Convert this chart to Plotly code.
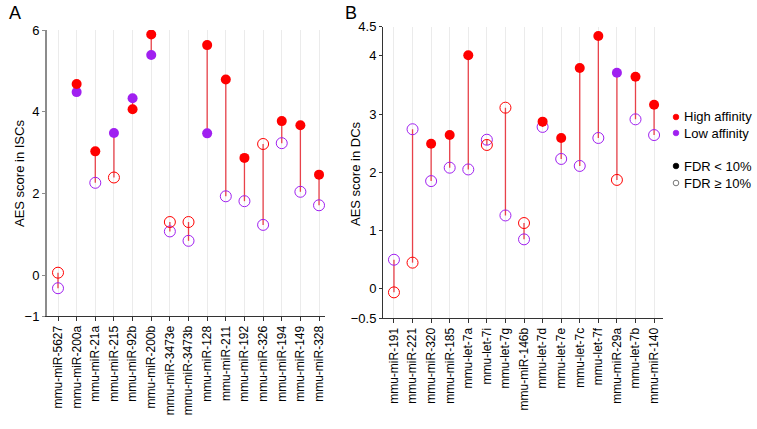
import plotly.graph_objects as go

# ---------------- Data ----------------
mirs_a = ["mmu-miR-5627", "mmu-miR-200a", "mmu-miR-21a", "mmu-miR-215", "mmu-miR-92b",
          "mmu-miR-200b", "mmu-miR-3473e", "mmu-miR-3473b", "mmu-miR-128", "mmu-miR-211",
          "mmu-miR-192", "mmu-miR-326", "mmu-miR-194", "mmu-miR-149", "mmu-miR-328"]
high_a = [0.06, 4.68, 3.03, 2.39, 4.06, 5.89, 1.30, 1.30, 5.63, 4.79, 2.87, 3.21, 3.77, 3.67, 2.46]
high_sig_a = [False, True, True, False, True, True, False, False, True, True, True, False, True, True, True]
low_a = [-0.32, 4.48, 2.26, 3.48, 4.33, 5.39, 1.07, 0.84, 3.47, 1.93, 1.81, 1.23, 3.23, 2.04, 1.71]
low_sig_a = [False, True, False, True, True, True, False, False, True, False, False, False, False, False, False]

mirs_b = ["mmu-miR-191", "mmu-miR-221", "mmu-miR-320", "mmu-miR-185", "mmu-let-7a",
          "mmu-let-7i", "mmu-let-7g", "mmu-miR-146b", "mmu-let-7d", "mmu-let-7e",
          "mmu-let-7c", "mmu-let-7f", "mmu-miR-29a", "mmu-let-7b", "mmu-miR-140"]
high_b = [-0.06, 0.45, 2.49, 2.64, 4.01, 2.47, 3.11, 1.13, 2.87, 2.59, 3.79, 4.34, 1.87, 3.64, 3.16]
high_sig_b = [False, False, True, True, True, False, False, False, True, True, True, True, False, True, True]
low_b = [0.50, 2.74, 1.85, 2.08, 2.05, 2.56, 1.26, 0.85, 2.78, 2.23, 2.11, 2.59, 3.71, 2.91, 2.64]
low_sig_b = [False, False, False, False, False, False, False, False, False, False, False, False, True, False, False]

yticks_a = [-1, 0, 2, 4, 6]
ytick_text_a = ["\u22121", "0", "2", "4", "6"]
yticks_b = [-0.5, 0, 1, 2, 3, 4, 4.5]
ytick_text_b = ["\u22120.5", "0", "1", "2", "3", "4", "4.5"]

# ---------------- Style ----------------
RED = "#ff0000"
PURPLE = "#a020f0"
SEG = "#e8424a"
FONT = "Liberation Sans, Arial, sans-serif"

fig = go.Figure()


def add_panel(fig, mirs, high, high_sig, low, low_sig, xa, ya):
    # segments
    for i, m in enumerate(mirs):
        fig.add_trace(go.Scatter(x=[m, m], y=[high[i], low[i]], mode="lines",
                                 line=dict(color=SEG, width=1.3), xaxis=xa, yaxis=ya,
                                 showlegend=False, hoverinfo="skip"))
    for vals, sig, col in [(low, low_sig, PURPLE), (high, high_sig, RED)]:
        xs_f = [m for m, s in zip(mirs, sig) if s]
        ys_f = [v for v, s in zip(vals, sig) if s]
        xs_o = [m for m, s in zip(mirs, sig) if not s]
        ys_o = [v for v, s in zip(vals, sig) if not s]
        fig.add_trace(go.Scatter(x=xs_o, y=ys_o, mode="markers", xaxis=xa, yaxis=ya,
                                 marker=dict(symbol="circle-open", size=11, color=col,
                                             line=dict(width=1)),
                                 showlegend=False))
        fig.add_trace(go.Scatter(x=xs_f, y=ys_f, mode="markers", xaxis=xa, yaxis=ya,
                                 marker=dict(symbol="circle", size=10, color=col),
                                 showlegend=False))


add_panel(fig, mirs_a, high_a, high_sig_a, low_a, low_sig_a, "x", "y")
add_panel(fig, mirs_b, high_b, high_sig_b, low_b, low_sig_b, "x2", "y2")

W, H = 757, 429

common_x = dict(type="category", showgrid=True, gridcolor="#ebebeb", gridwidth=1,
                tickangle=-90, ticks="outside", ticklen=4, tickcolor="#333",
                showline=True, linecolor="#333", linewidth=1, automargin=False,
                tickfont=dict(size=12, color="black", family=FONT), zeroline=False)
common_y = dict(showgrid=False, zeroline=False, ticks="outside", ticklen=3,
                showline=True, automargin=False,
                tickfont=dict(size=13, color="black", family=FONT))

fig.update_layout(
    template="none",
    width=W, height=H,
    margin=dict(l=0, r=0, t=0, b=0, autoexpand=False),
    paper_bgcolor="white", plot_bgcolor="white",
    font=dict(family=FONT, color="black"),
    showlegend=False,
    xaxis=dict(common_x, domain=[47 / W, 325 / W], range=[-0.59, 14.32],
               categoryorder="array", categoryarray=mirs_a, anchor="y"),
    yaxis=dict(common_y, domain=[1 - 316 / H, 1 - 30 / H], range=[-1, 6],
               tickvals=yticks_a, ticktext=ytick_text_a, linecolor="#8c8c8c", linewidth=2,
               tickcolor="#8c8c8c", anchor="x"),
    xaxis2=dict(common_x, domain=[383 / W, 663 / W], range=[-0.59, 14.48],
                categoryorder="array", categoryarray=mirs_b, anchor="y2"),
    yaxis2=dict(common_y, domain=[1 - 318 / H, 1 - 26.7 / H], range=[-0.5, 4.5],
                tickvals=yticks_b, ticktext=ytick_text_b, linecolor="#333", linewidth=1,
                tickcolor="#333", anchor="x2"),
)

# axis titles (placed as rotated annotations)
fig.add_annotation(x=19 / W, y=1 - 174 / H, xref="paper", yref="paper",
                   text="AES score in ISCs", textangle=-90, showarrow=False,
                   xanchor="center", yanchor="middle",
                   font=dict(size=13, family=FONT, color="black"))
fig.add_annotation(x=355 / W, y=1 - 174 / H, xref="paper", yref="paper",
                   text="AES score in DCs", textangle=-90, showarrow=False,
                   xanchor="center", yanchor="middle",
                   font=dict(size=13, family=FONT, color="black"))

# panel labels
fig.add_annotation(x=7 / W, y=1 - 13 / H, xref="paper", yref="paper", text="A",
                   showarrow=False, xanchor="left", yanchor="middle",
                   font=dict(size=18, family=FONT, color="black"))
fig.add_annotation(x=343 / W, y=1 - 13 / H, xref="paper", yref="paper", text="B",
                   showarrow=False, xanchor="left", yanchor="middle",
                   font=dict(size=18, family=FONT, color="black"))

# legend (drawn manually)
legend_items = [("High affinity", 117, "fill", RED),
                ("Low affinity", 133, "fill", PURPLE),
                ("FDR < 10%", 166, "fill", "black"),
                ("FDR \u2265 10%", 183, "open", "#555")]
for txt, yp, kind, col in legend_items:
    r = 2.8
    cx = 676
    fig.add_shape(type="circle", xref="paper", yref="paper",
                  x0=(cx - r) / W, x1=(cx + r) / W, y0=1 - (yp + r) / H, y1=1 - (yp - r) / H,
                  fillcolor=col if kind == "fill" else "rgba(0,0,0,0)",
                  line=dict(color=col, width=0.8))
    fig.add_annotation(x=682 / W, y=1 - yp / H, xref="paper", yref="paper", text=txt,
                       showarrow=False, xanchor="left", yanchor="middle",
                       font=dict(size=13, family=FONT, color="black"))

fig.write_html("out.html", config={"displayModeBar": False},
               post_script="document.body.style.margin='0';")
